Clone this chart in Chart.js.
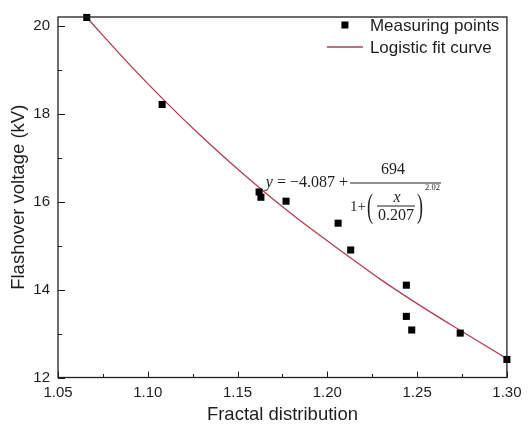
<!DOCTYPE html>
<html lang="en">
<head>
  <meta charset="UTF-8" />
  <title>Flashover voltage vs fractal distribution</title>
  <style>
    body { margin: 0; background: #fff; }
    #wrap { width: 528px; height: 426px; position: relative; }
  </style>
</head>
<body>
  <div id="wrap">
    <canvas id="grafico"></canvas>
  </div>

<script src="https://cdn.jsdelivr.net/npm/chart.js@4.4.0/dist/chart.umd.min.js"></script>
<script>
  // axis ticks
  const xTicks = [1.05, 1.10, 1.15, 1.20, 1.25, 1.30];
  const xMinorTicks = [1.075, 1.125, 1.175, 1.225, 1.275];
  const yTicks = [12, 14, 16, 18, 20];
  const yMinorTicks = [13, 15, 17, 19];

  // measured points
  const pointX = [1.066, 1.108, 1.162, 1.163, 1.177, 1.206, 1.213, 1.244, 1.244, 1.247, 1.274, 1.300];
  const pointY = [20.19, 18.21, 16.22, 16.10, 16.01, 15.51, 14.90, 14.10, 13.39, 13.08, 13.01, 12.41];

  // logistic fit curve
  const fitX = [1.066, 1.09, 1.11, 1.13, 1.15, 1.17, 1.19, 1.21, 1.23, 1.25, 1.27, 1.30];
  const fitY = [20.19, 19.11, 18.27, 17.48, 16.74, 16.05, 15.41, 14.81, 14.22, 13.68, 13.17, 12.43];

  const labels = ['Measuring points', 'Logistic fit curve'];

  const ink = '#1e1e1e';
  const curveColor = '#b03e4e';
  const sans = '"Liberation Sans", Arial, sans-serif';
  const serif = '"Liberation Serif", "Times New Roman", serif';

  Chart.defaults.color = ink;
  Chart.defaults.font.family = sans;

  // frame + inward ticks
  const marcoPlugin = {
    id: 'marco',
    afterDraw(chart) {
      const { ctx, chartArea: a, scales: { x, y } } = chart;
      ctx.save();
      ctx.strokeStyle = ink;
      ctx.lineWidth = 1.3;
      ctx.strokeRect(a.left, a.top, a.right - a.left, a.bottom - a.top);

      ctx.lineWidth = 1;
      ctx.beginPath();
      xTicks.forEach(v => {
        const px = Math.round(x.getPixelForValue(v)) + 0.5;
        ctx.moveTo(px, a.bottom); ctx.lineTo(px, a.bottom - 6);
      });
      xMinorTicks.forEach(v => {
        const px = Math.round(x.getPixelForValue(v)) + 0.5;
        ctx.moveTo(px, a.bottom); ctx.lineTo(px, a.bottom - 3.5);
      });
      yTicks.forEach(v => {
        const py = Math.round(y.getPixelForValue(v)) + 0.5;
        ctx.moveTo(a.left, py); ctx.lineTo(a.left + 7, py);
      });
      yMinorTicks.forEach(v => {
        const py = Math.round(y.getPixelForValue(v)) + 0.5;
        ctx.moveTo(a.left, py); ctx.lineTo(a.left + 4, py);
      });
      ctx.stroke();
      ctx.restore();
    }
  };

  // legend in the top right corner
  const leyendaPlugin = {
    id: 'leyenda',
    afterDraw(chart) {
      const { ctx, chartArea: a } = chart;
      const mx = a.right - 162;
      ctx.save();
      ctx.fillStyle = '#000';
      ctx.fillRect(mx - 3.5, 21.5, 7, 7);
      ctx.strokeStyle = curveColor;
      ctx.lineWidth = 1.3;
      ctx.beginPath();
      ctx.moveTo(a.right - 180, 47);
      ctx.lineTo(a.right - 144, 47);
      ctx.stroke();
      ctx.fillStyle = ink;
      ctx.font = '17px ' + sans;
      ctx.textBaseline = 'middle';
      ctx.textAlign = 'left';
      ctx.fillText(labels[0], a.right - 137, 26);
      ctx.fillText(labels[1], a.right - 137, 48);
      ctx.restore();
    }
  };

  // tall thin bracket: glyph stretched vertically
  function paren(ctx, ch, cx, cy) {
    ctx.save();
    ctx.translate(cx, cy);
    ctx.scale(1, 1.9);
    ctx.font = '18px ' + serif;
    ctx.textAlign = 'center';
    ctx.textBaseline = 'middle';
    ctx.fillText(ch, 0, 0);
    ctx.restore();
  }

  // fitted equation
  const ecuacionPlugin = {
    id: 'ecuacion',
    afterDraw(chart) {
      const { ctx } = chart;
      const ax = 350, ay = 182.5;
      ctx.save();
      ctx.fillStyle = ink;
      ctx.strokeStyle = ink;
      ctx.textBaseline = 'middle';

      ctx.font = '16px ' + serif;
      ctx.textAlign = 'right';
      const rest = ' = \u22124.087 +';
      ctx.fillText(rest, ax - 2, ay);
      const w = ctx.measureText(rest).width;
      ctx.font = 'italic 16px ' + serif;
      ctx.fillText('y', ax - 2 - w, ay);

      ctx.lineWidth = 1;
      ctx.beginPath();
      ctx.moveTo(ax, ay + 0.5); ctx.lineTo(ax + 91, ay + 0.5);
      ctx.moveTo(ax + 27, ay + 23.5); ctx.lineTo(ax + 65, ay + 23.5);
      ctx.stroke();

      ctx.font = '16px ' + serif;
      ctx.textAlign = 'center';
      ctx.fillText('694', ax + 43, ay - 13);
      ctx.fillText('0.207', ax + 46, ay + 33);
      ctx.font = '15px ' + serif;
      ctx.textAlign = 'left';
      ctx.fillText('1+', ax, ay + 25);

      ctx.font = 'italic 16px ' + serif;
      ctx.textAlign = 'center';
      ctx.fillText('x', ax + 47, ay + 15);

      paren(ctx, '(', ax + 20, ay + 25.5);
      paren(ctx, ')', ax + 70, ay + 25.5);

      ctx.font = '8.5px ' + serif;
      ctx.textAlign = 'left';
      ctx.fillText('2.02', ax + 75, ay + 5.5);
      ctx.restore();
    }
  };

  new Chart(document.getElementById('grafico'), {
    type: 'scatter',
    data: {
      datasets: [
        {
          label: labels[0],
          data: pointX.map((v, i) => ({ x: v, y: pointY[i] })),
          pointStyle: 'rect',
          pointRadius: 5,
          backgroundColor: '#000',
          borderColor: '#000',
          borderWidth: 0,
          clip: false,
          order: 0
        },
        {
          label: labels[1],
          data: fitX.map((v, i) => ({ x: v, y: fitY[i] })),
          showLine: true,
          pointRadius: 0,
          borderColor: curveColor,
          borderWidth: 1.3,
          cubicInterpolationMode: 'monotone',
          order: 1
        }
      ]
    },
    options: {
      responsive: true,
      maintainAspectRatio: false,
      animation: false,
      layout: { padding: { top: 12, right: 16, bottom: 0, left: 0 } },
      plugins: {
        legend: { display: false },
        tooltip: { enabled: false }
      },
      scales: {
        x: {
          type: 'linear',
          min: 1.05,
          max: 1.30,
          afterBuildTicks: s => { s.ticks = xTicks.map(v => ({ value: v })); },
          afterFit: s => { s.height = 48.5; },
          grid: { drawOnChartArea: false, drawTicks: false },
          border: { display: false },
          ticks: {
            padding: 6.5,
            font: { size: 15 },
            color: ink,
            maxRotation: 0,
            callback: v => v.toFixed(2)
          },
          title: {
            display: true,
            text: 'Fractal distribution',
            font: { size: 18.5 },
            color: ink,
            padding: { top: 0, bottom: 0 }
          }
        },
        y: {
          type: 'linear',
          min: 12,
          max: 20.2,
          afterBuildTicks: s => { s.ticks = yTicks.map(v => ({ value: v })); },
          afterFit: s => { s.width = 58; },
          grid: { drawOnChartArea: false, drawTicks: false },
          border: { display: false },
          ticks: {
            padding: 8,
            font: { size: 15 },
            color: ink,
            callback: v => String(v)
          },
          title: {
            display: true,
            text: 'Flashover voltage (kV)',
            font: { size: 18.5 },
            color: ink,
            padding: { top: 7.5, bottom: 0 }
          }
        }
      }
    },
    plugins: [marcoPlugin, leyendaPlugin, ecuacionPlugin]
  });
</script>
</body>
</html>
